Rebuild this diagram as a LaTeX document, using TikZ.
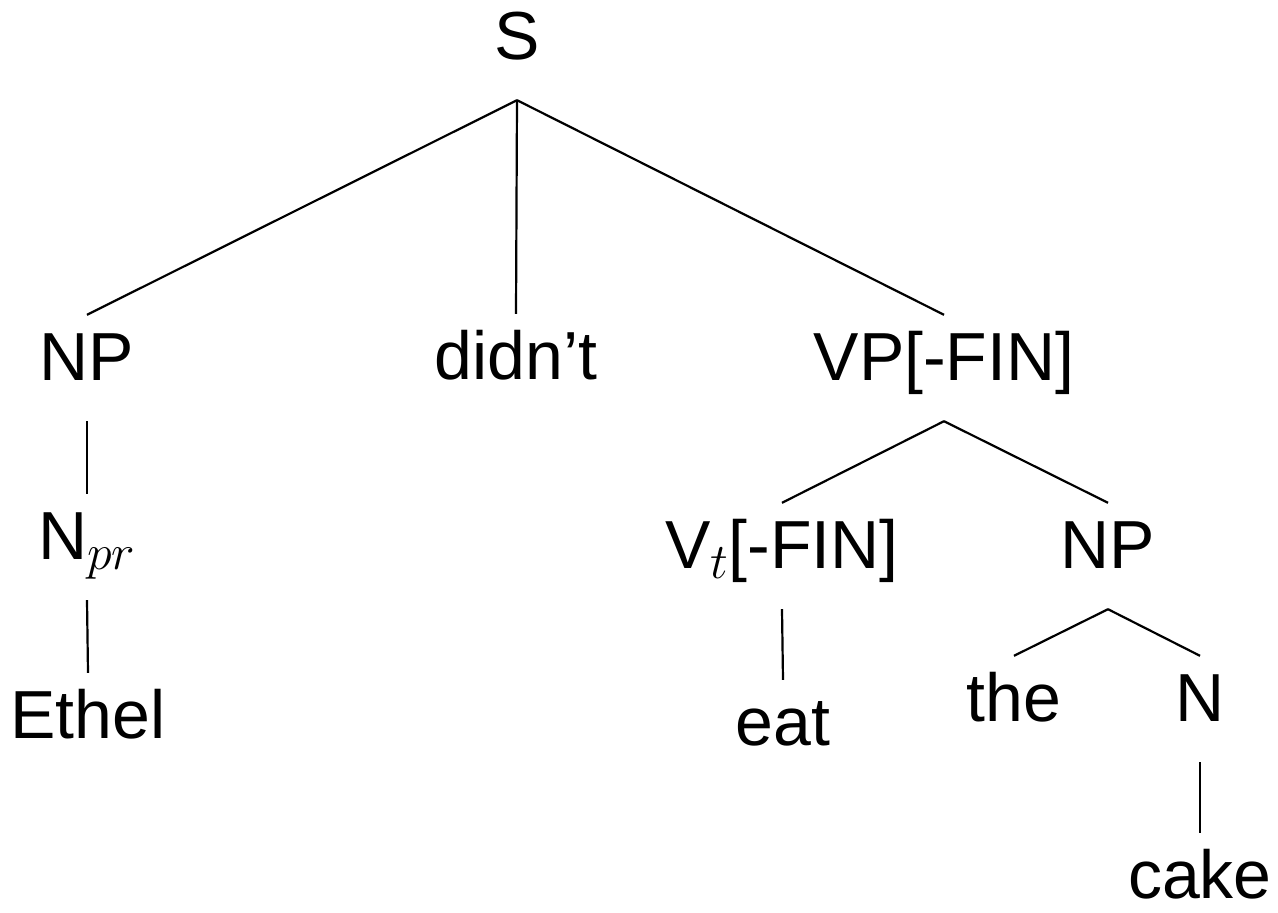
\RequirePackage{fix-cm}
\documentclass[tikz,border=0pt]{standalone}
\usepackage{fontspec}
\setmainfont{Liberation Sans}
\DeclareMathSizes{68}{68}{50}{36}
\begin{document}
\begin{tikzpicture}[x=1pt,y=1pt,
  cat/.style={anchor=base, font=\fontsize{68}{80}\selectfont,
    text height=49pt, text depth=25pt, inner xsep=0pt, inner ysep=16pt},
  branch/.style={line width=2.2pt}]
\useasboundingbox (0,0) rectangle (1278,-913);
% categories and words, placed by their baselines
\node[cat] (s)     at (517,-59)  {S};
\node[cat] (np1)   at (87,-380)  {NP};
\node[cat] (didnt) at (516,-379) {didn’t};
\node[cat] (vp)    at (944,-380) {VP[-FIN]};
\node[cat] (npr)   at (87,-559)  {N$_{pr}$};
\node[cat] (vt)    at (782,-568) {V$_t$[-FIN]};
\node[cat] (np2)   at (1108,-568) {NP};
\node[cat] (ethel) at (88,-738)  {Ethel};
\node[cat] (eat)   at (783,-745) {eat};
\node[cat] (the)   at (1014,-721) {the};
\node[cat] (n)     at (1200,-721) {N};
\node[cat] (cake)  at (1200,-898) {cake};
% branches
\draw[branch] (s.south) -- (np1.north);
\draw[branch] (s.south) -- (didnt.north);
\draw[branch] (s.south) -- (vp.north);
\draw[branch] (np1.south) -- (npr.north);
\draw[branch] (npr.south) -- (ethel.north);
\draw[branch] (vp.south) -- (vt.north);
\draw[branch] (vp.south) -- (np2.north);
\draw[branch] (vt.south) -- (eat.north);
\draw[branch] (np2.south) -- (the.north);
\draw[branch] (np2.south) -- (n.north);
\draw[branch] (n.south) -- (cake.north);
\end{tikzpicture}
\end{document}
